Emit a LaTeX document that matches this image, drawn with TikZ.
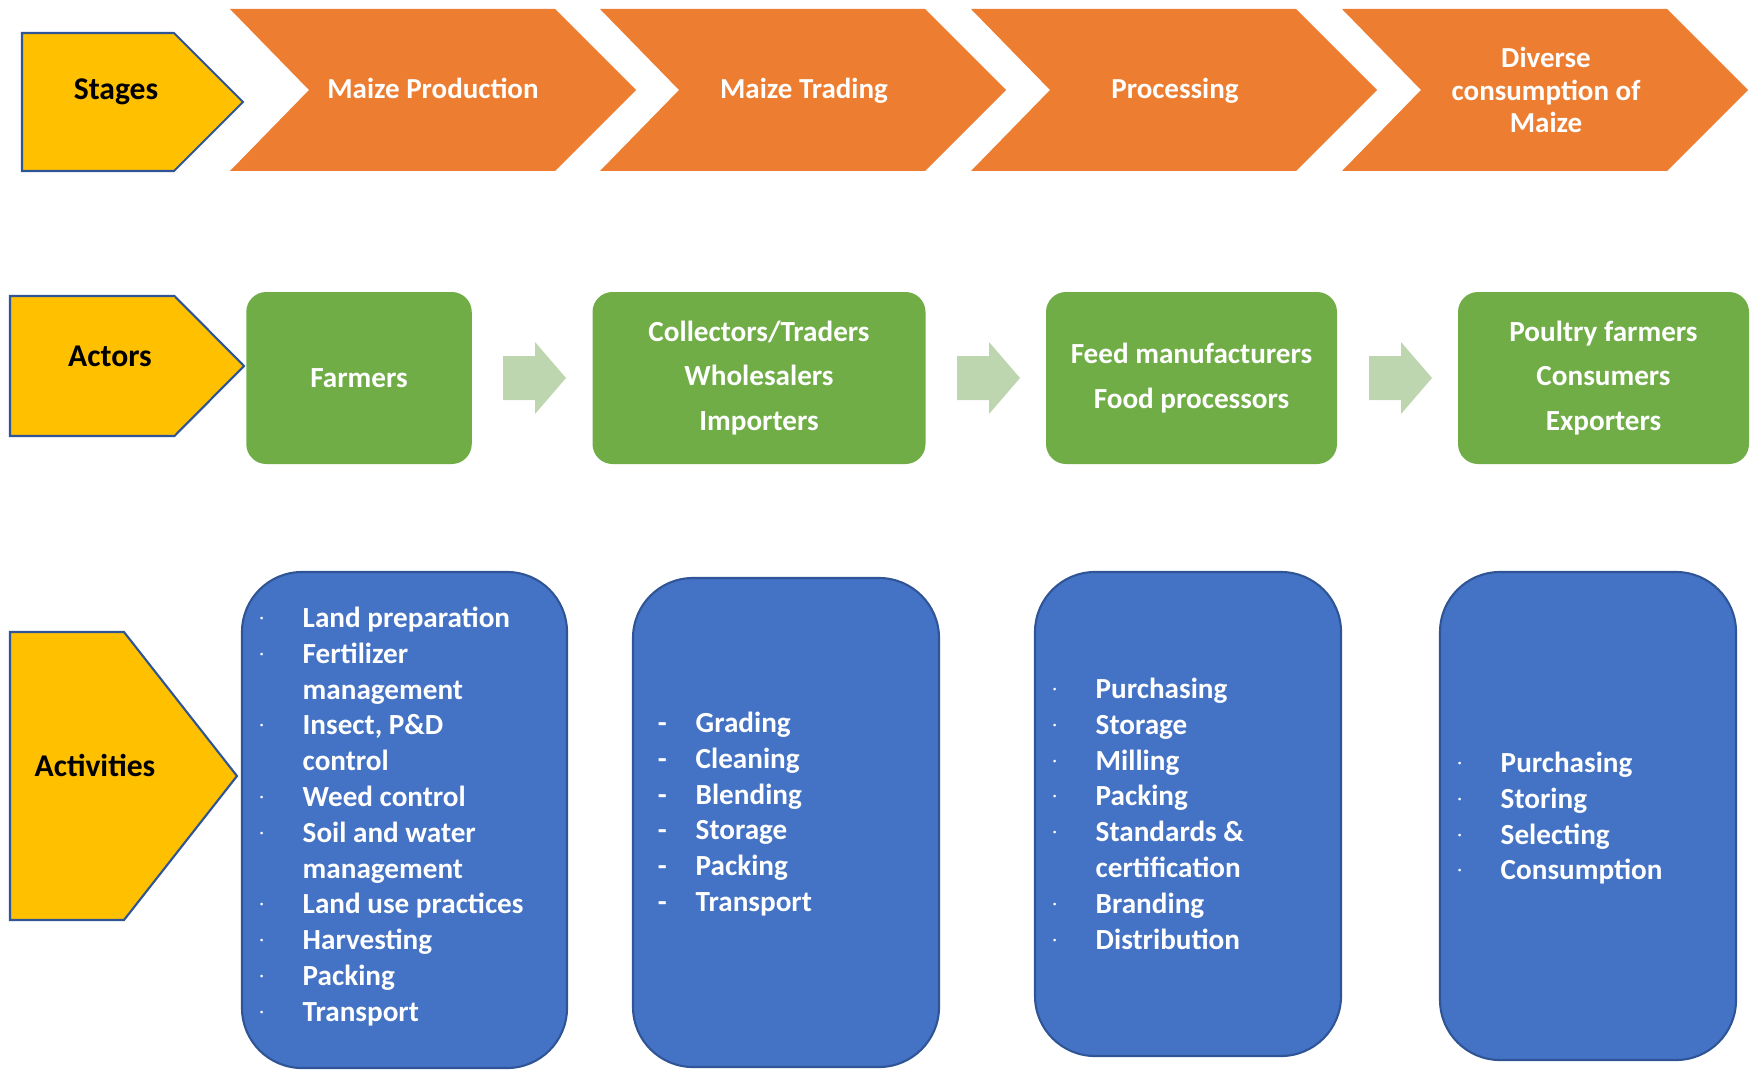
\documentclass[tikz,border=0pt]{standalone}
\usepackage{fontspec}
\setmainfont{Carlito}
\usepackage{tikz}
\usetikzlibrary{backgrounds}
\pgfdeclarelayer{shapelayer}
\pgfdeclarelayer{textlayer}
\pgfsetlayers{shapelayer,main,textlayer}

\definecolor{stageyellow}{RGB}{255,192,0}
\definecolor{edgeblue}{RGB}{47,85,151}
\definecolor{chevronorange}{RGB}{237,125,49}
\definecolor{actorgreen}{RGB}{112,173,71}
\definecolor{arrowgreen}{RGB}{190,214,176}
\definecolor{activityblue}{RGB}{68,114,196}

\tikzset{
	stagebox/.style={fill=stageyellow, draw=edgeblue, line width=0.6pt},
	chevron/.style={fill=chevronorange},
	flowarrow/.style={fill=arrowgreen},
	actorbox/.style={rectangle, rounded corners=0.2cm, fill=actorgreen, text=white, align=center, font={\fontsize{8.3}{12.7}\selectfont\bfseries}},
	activitybox/.style={rectangle, rounded corners=0.6cm, fill=activityblue, draw=edgeblue, line width=0.6pt},
	stagelabel/.style={font={\fontsize{9}{10}\selectfont\bfseries}, text=black, anchor=base},
	chevrontext/.style={font={\fontsize{8.25}{9.25}\selectfont\bfseries}, text=white, align=center},
	listitem/.style={font={\fontsize{8.3}{10}\selectfont\bfseries}, text=white, anchor=base west, inner sep=0pt},
}
\newcommand{\dotitem}{\llap{\raisebox{1.3pt}{\fontsize{4}{4}\selectfont ·}\hspace{0.39cm}}}
\newcommand{\dashitem}{\llap{-\hspace{0.29cm}}}

\begin{document}
\begin{tikzpicture}
	\useasboundingbox (0, 0) rectangle (17.56, 10.70);
	\node [] (0) at (0.22, 10.37) {};
	\node [] (1) at (1.74, 10.37) {};
	\node [] (2) at (2.43, 9.68) {};
	\node [] (3) at (1.74, 8.99) {};
	\node [] (4) at (0.22, 8.99) {};
	\node [] (5) at (0.10, 7.74) {};
	\node [] (6) at (1.745, 7.74) {};
	\node [] (7) at (2.44, 7.04) {};
	\node [] (8) at (1.745, 6.34) {};
	\node [] (9) at (0.10, 6.34) {};
	\node [] (10) at (0.10, 4.38) {};
	\node [] (11) at (1.24, 4.38) {};
	\node [] (12) at (2.37, 2.94) {};
	\node [] (13) at (1.24, 1.50) {};
	\node [] (14) at (0.10, 1.50) {};
	\node [] (15) at (2.30, 10.61) {};
	\node [] (16) at (5.55, 10.61) {};
	\node [] (17) at (6.36, 9.80) {};
	\node [] (18) at (5.55, 8.99) {};
	\node [] (19) at (2.30, 8.99) {};
	\node [] (20) at (3.09, 9.80) {};
	\node [] (21) at (6.00, 10.61) {};
	\node [] (22) at (9.25, 10.61) {};
	\node [] (23) at (10.06, 9.80) {};
	\node [] (24) at (9.25, 8.99) {};
	\node [] (25) at (6.00, 8.99) {};
	\node [] (26) at (6.79, 9.80) {};
	\node [] (27) at (9.71, 10.61) {};
	\node [] (28) at (12.96, 10.61) {};
	\node [] (29) at (13.77, 9.80) {};
	\node [] (30) at (12.96, 8.99) {};
	\node [] (31) at (9.71, 8.99) {};
	\node [] (32) at (10.50, 9.80) {};
	\node [] (33) at (13.42, 10.61) {};
	\node [] (34) at (16.67, 10.61) {};
	\node [] (35) at (17.48, 9.80) {};
	\node [] (36) at (16.67, 8.99) {};
	\node [] (37) at (13.42, 8.99) {};
	\node [] (38) at (14.21, 9.80) {};
	\node [] (39) at (5.03, 7.14) {};
	\node [] (40) at (5.35, 7.14) {};
	\node [] (41) at (5.35, 7.28) {};
	\node [] (42) at (5.66, 6.92) {};
	\node [] (43) at (5.35, 6.56) {};
	\node [] (44) at (5.35, 6.70) {};
	\node [] (45) at (5.03, 6.70) {};
	\node [] (46) at (9.57, 7.14) {};
	\node [] (47) at (9.89, 7.14) {};
	\node [] (48) at (9.89, 7.28) {};
	\node [] (49) at (10.20, 6.92) {};
	\node [] (50) at (9.89, 6.56) {};
	\node [] (51) at (9.89, 6.70) {};
	\node [] (52) at (9.57, 6.70) {};
	\node [] (53) at (13.69, 7.14) {};
	\node [] (54) at (14.01, 7.14) {};
	\node [] (55) at (14.01, 7.28) {};
	\node [] (56) at (14.32, 6.92) {};
	\node [] (57) at (14.01, 6.56) {};
	\node [] (58) at (14.01, 6.70) {};
	\node [] (59) at (13.69, 6.70) {};
	\begin{pgfonlayer}{shapelayer}
		\filldraw [stagebox] (0.center) -- (1.center) -- (2.center) -- (3.center) -- (4.center) -- cycle;
		\filldraw [stagebox] (5.center) -- (6.center) -- (7.center) -- (8.center) -- (9.center) -- cycle;
		\filldraw [stagebox] (10.center) -- (11.center) -- (12.center) -- (13.center) -- (14.center) -- cycle;
		\fill [chevron] (15.center) -- (16.center) -- (17.center) -- (18.center) -- (19.center) -- (20.center) -- cycle;
		\fill [chevron] (21.center) -- (22.center) -- (23.center) -- (24.center) -- (25.center) -- (26.center) -- cycle;
		\fill [chevron] (27.center) -- (28.center) -- (29.center) -- (30.center) -- (31.center) -- (32.center) -- cycle;
		\fill [chevron] (33.center) -- (34.center) -- (35.center) -- (36.center) -- (37.center) -- (38.center) -- cycle;
		\fill [flowarrow] (39.center) -- (40.center) -- (41.center) -- (42.center) -- (43.center) -- (44.center) -- (45.center) -- cycle;
		\fill [flowarrow] (46.center) -- (47.center) -- (48.center) -- (49.center) -- (50.center) -- (51.center) -- (52.center) -- cycle;
		\fill [flowarrow] (53.center) -- (54.center) -- (55.center) -- (56.center) -- (57.center) -- (58.center) -- (59.center) -- cycle;
		\node [actorbox, minimum width=2.255cm, minimum height=1.72cm] (60) at (3.59, 6.92) {Farmers};
		\node [actorbox, minimum width=3.33cm, minimum height=1.72cm] (61) at (7.59, 6.92) {Collectors/Traders\\Wholesalers\\Importers};
		\node [actorbox, minimum width=2.91cm, minimum height=1.72cm] (62) at (11.915, 6.92) {Feed manufacturers\\Food processors};
		\node [actorbox, minimum width=2.91cm, minimum height=1.72cm] (63) at (16.035, 6.92) {Poultry farmers\\Consumers\\Exporters};
		\node [activitybox, minimum width=3.25cm, minimum height=4.96cm] (64) at (4.045, 2.50) {};
		\node [activitybox, minimum width=3.06cm, minimum height=4.89cm] (65) at (7.86, 2.475) {};
		\node [activitybox, minimum width=3.06cm, minimum height=4.84cm] (66) at (11.88, 2.56) {};
		\node [activitybox, minimum width=2.96cm, minimum height=4.88cm] (67) at (15.88, 2.54) {};
	\end{pgfonlayer}
	\begin{pgfonlayer}{textlayer}
		\node [listitem] (68) at (3.02, 4.43) {\dotitem Land preparation};
		\node [listitem] (69) at (3.02, 4.07) {\dotitem Fertilizer};
		\node [listitem] (70) at (3.02, 3.71) {management};
		\node [listitem] (71) at (3.02, 3.36) {\dotitem Insect, P\&D};
		\node [listitem] (72) at (3.02, 3.00) {control};
		\node [listitem] (73) at (3.02, 2.64) {\dotitem Weed control};
		\node [listitem] (74) at (3.02, 2.28) {\dotitem Soil and water};
		\node [listitem] (75) at (3.02, 1.92) {management};
		\node [listitem] (76) at (3.02, 1.57) {\dotitem Land use practices};
		\node [listitem] (77) at (3.02, 1.21) {\dotitem Harvesting};
		\node [listitem] (78) at (3.02, 0.85) {\dotitem Packing};
		\node [listitem] (79) at (3.02, 0.49) {\dotitem Transport};
		\node [listitem] (80) at (6.95, 3.38) {\dashitem Grading};
		\node [listitem] (81) at (6.95, 3.02) {\dashitem Cleaning};
		\node [listitem] (82) at (6.95, 2.66) {\dashitem Blending};
		\node [listitem] (83) at (6.95, 2.31) {\dashitem Storage};
		\node [listitem] (84) at (6.95, 1.95) {\dashitem Packing};
		\node [listitem] (85) at (6.95, 1.59) {\dashitem Transport};
		\node [listitem] (86) at (10.95, 3.72) {\dotitem Purchasing};
		\node [listitem] (87) at (10.95, 3.36) {\dotitem Storage};
		\node [listitem] (88) at (10.95, 3.00) {\dotitem Milling};
		\node [listitem] (89) at (10.95, 2.65) {\dotitem Packing};
		\node [listitem] (90) at (10.95, 2.29) {\dotitem Standards \&};
		\node [listitem] (91) at (10.95, 1.93) {certification};
		\node [listitem] (92) at (10.95, 1.57) {\dotitem Branding};
		\node [listitem] (93) at (10.95, 1.21) {\dotitem Distribution};
		\node [listitem] (94) at (15.00, 2.98) {\dotitem Purchasing};
		\node [listitem] (95) at (15.00, 2.62) {\dotitem Storing};
		\node [listitem] (96) at (15.00, 2.26) {\dotitem Selecting};
		\node [listitem] (97) at (15.00, 1.91) {\dotitem Consumption};
		\node [stagelabel] (98) at (1.16, 9.70) {Stages};
		\node [stagelabel] (99) at (1.10, 7.04) {Actors};
		\node [stagelabel] (100) at (0.95, 2.94) {Activities};
		\node [chevrontext, anchor=base] (101) at (4.33, 9.71) {Maize Production};
		\node [chevrontext, anchor=base] (102) at (8.04, 9.71) {Maize Trading};
		\node [chevrontext, anchor=base] (103) at (11.75, 9.71) {Processing};
		\node [chevrontext] (104) at (15.46, 9.80) {Diverse\\consumption of\\Maize};
	\end{pgfonlayer}
\end{tikzpicture}
\end{document}
